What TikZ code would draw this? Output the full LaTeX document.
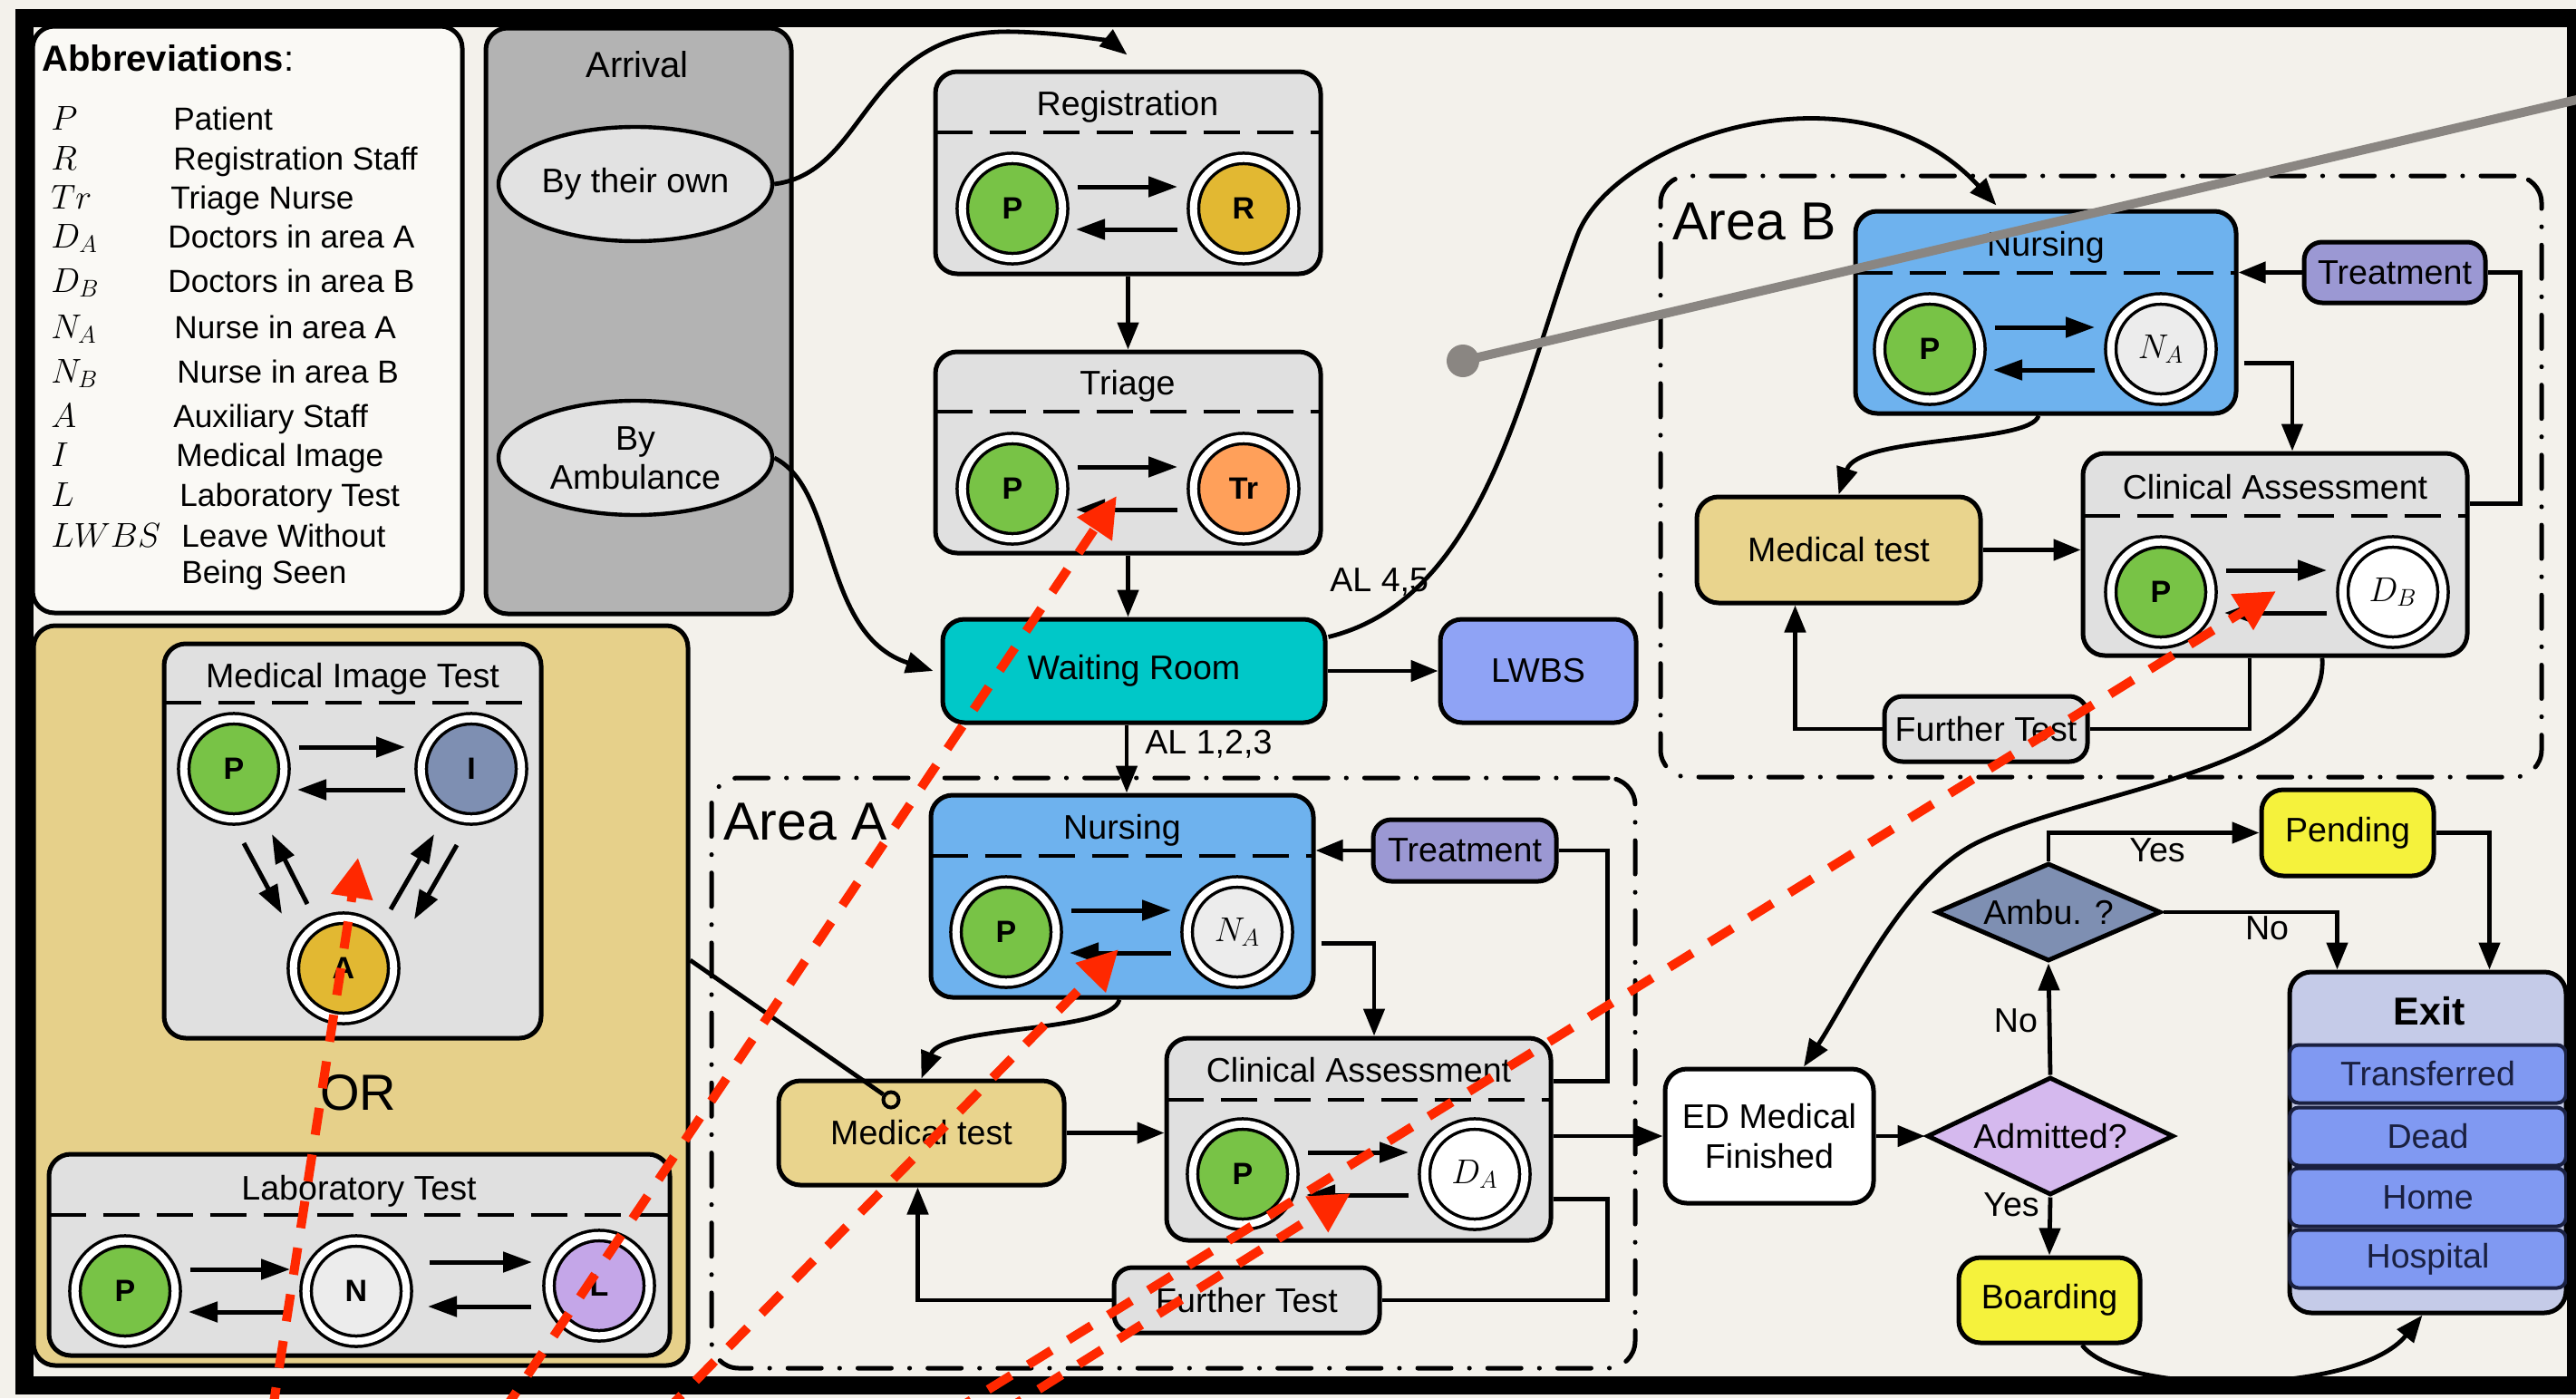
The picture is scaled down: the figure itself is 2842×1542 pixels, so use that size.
\RequirePackage{fix-cm}
\documentclass[tikz,border=0pt]{standalone}
\usepackage{fontspec}
\setmainfont{Liberation Sans}
\usetikzlibrary{arrows.meta,shapes.geometric,calc}

\definecolor{paper}{RGB}{243,241,235}
\definecolor{abbfill}{RGB}{250,249,245}
\definecolor{arrgray}{RGB}{179,179,179}
\definecolor{ellgray}{RGB}{226,226,226}
\definecolor{boxgray}{RGB}{224,224,224}
\definecolor{pgreen}{RGB}{120,195,70}
\definecolor{gold}{RGB}{226,184,50}
\definecolor{orng}{RGB}{255,160,90}
\definecolor{slate}{RGB}{126,143,178}
\definecolor{lilac}{RGB}{196,166,232}
\definecolor{lightc}{RGB}{236,236,236}
\definecolor{cyanw}{RGB}{0,200,200}
\definecolor{lwbsc}{RGB}{143,163,245}
\definecolor{nursec}{RGB}{110,178,238}
\definecolor{treatc}{RGB}{155,152,211}
\definecolor{tanc}{RGB}{233,212,141}
\definecolor{panelc}{RGB}{230,208,138}
\definecolor{yelc}{RGB}{245,242,60}
\definecolor{admc}{RGB}{213,185,238}
\definecolor{exitc}{RGB}{197,203,232}
\definecolor{rowc}{RGB}{128,153,242}
\definecolor{navyc}{RGB}{26,32,64}
\definecolor{redann}{RGB}{255,40,0}
\definecolor{pinc}{RGB}{138,134,130}

\tikzset{
  sz/.style 2 args={minimum width={#1*0.5pt}, minimum height={#2*0.5pt}},
  lblfont/.style={font=\fontsize{18.8}{21.5}\selectfont},
  lbl/.style={lblfont, inner sep=0pt},
  ttl/.style={lblfont, inner sep=0pt, anchor=base},
  box/.style={draw, line width=2.5pt, rounded corners=12pt, inner sep=0pt, lblfont, align=center},
  agent/.style={circle, draw=black, line width=1.75pt, double=white, double distance=4pt,
    minimum size=55.3pt, inner sep=0pt, font=\bfseries\fontsize{17}{17}\selectfont},
  mathagent/.style={agent, font=\fontsize{19}{19}\selectfont},
  conn/.style={line width=2.4pt, -{Triangle[length=15pt,width=11.5pt]}},
  wire/.style={line width=2.4pt},
  inarr/.style={line width=2.5pt, -{Triangle[length=16pt,width=11pt]}},
  sep/.style={line width=2.25pt, dash pattern=on 20pt off 9.5pt, shorten <=1.5pt, shorten >=1.5pt},
  areabox/.style={draw, line width=2.5pt, line cap=round,
    dash pattern=on 18.5pt off 10pt on 0.1pt off 10pt, rounded corners=15pt, inner sep=0pt},
  redline/.style={draw=redann, line width=5pt, dash pattern=on 15pt off 11pt,
    -{Triangle[length=22pt,width=22pt]}},
  sym/.style={anchor=base west, inner sep=0pt, font=\fontsize{19}{22}\selectfont},
  desc/.style={anchor=base west, inner sep=0pt, font=\fontsize{17.6}{20}\selectfont},
  exitrow/.style={draw=navyc, line width=2pt, fill=rowc, rounded corners=5pt, text=navyc,
    inner sep=0pt, lblfont, sz={305}{64}},
}

% two opposite arrows between a left and a right agent
\newcommand\agentpair[2]{%
  \draw[inarr] ($(#1)+(72,-24)$) -- ($(#2)+(-73,-24)$);
  \draw[inarr] ($(#2)+(-73,23)$) -- ($(#1)+(70,23)$);}

\begin{document}
\begin{tikzpicture}[x=0.5pt,y=-0.5pt]
\useasboundingbox (0,0) rectangle (2842,1542);
\clip (0,0) rectangle (2842,1542);
\fill[paper] (0,0) rectangle (2842,1542);

% ---------------- abbreviations ----------------
\node[draw, line width=2.5pt, rounded corners=12pt, fill=abbfill, sz={474}{647}] (abbr) at (273,352.5) {};
\node[anchor=base west, inner sep=0pt, font=\bfseries\fontsize{20}{24}\selectfont] (abbrT) at (46,78) {Abbreviations\textmd{:}};
\foreach \sy/\tx/\dx/\by [count=\i] in {
  P/Patient/191/143, R/Registration Staff/191/187, Tr/Triage Nurse/188/230,
  D_A/Doctors in area A/185/273, D_B/Doctors in area B/185/322,
  N_A/Nurse in area A/192/373, N_B/Nurse in area B/195/422,
  A/Auxiliary Staff/191/471, I/Medical Image/194/514,
  L/Laboratory Test/198/558, LWBS/Leave Without/200/603}
{
  \node[sym] (sym\i) at (56,\by) {$\sy$};
  \node[desc] (dsc\i) at (\dx,\by) {\tx};
}
\node[desc] (dsc12) at (200,643) {Being Seen};

% ---------------- arrival ----------------
\node[box, fill=arrgray, sz={337}{646}] (arrival) at (704.5,354) {};
\node[ttl, font=\fontsize{20}{24}\selectfont] (arrivalT) at (703,85) {Arrival};
\node[ellipse, draw, line width=2.2pt, fill=ellgray, sz={302}{126}, inner sep=0pt, lblfont, align=center] (own) at (701,203) {By their own};
\node[ellipse, draw, line width=2.2pt, fill=ellgray, sz={302}{126}, inner sep=0pt, lblfont, align=center] (amb) at (701,505) {By\\Ambulance};

% ---------------- registration / triage / waiting ----------------
\node[box, fill=boxgray, sz={425}{223}] (reg) at (1244.5,190.5) {};
\node[ttl] (regT) at (1244,127) {Registration};
\draw[sep] (reg.west |- 0,146) -- (reg.east |- 0,146);
\node[agent, fill=pgreen] (regP) at (1117,230) {P};
\node[agent, fill=gold] (regR) at (1372,230) {R};
\agentpair{regP}{regR}

\node[box, fill=boxgray, sz={425}{222}] (tri) at (1244.5,499) {};
\node[ttl] (triT) at (1244,435) {Triage};
\draw[sep] (tri.west |- 0,454) -- (tri.east |- 0,454);
\node[agent, fill=pgreen] (triP) at (1117,539) {P};
\node[agent, fill=orng] (triT2) at (1372,539) {Tr};
\agentpair{triP}{triT2}

\node[box, fill=cyanw, sz={422}{114}] (wait) at (1251,740) {Waiting Room};
\node[box, fill=lwbsc, sz={216}{114}] (lwbs) at (1697,740) {LWBS};

% ---------------- area A ----------------
\node[areabox, sz={1019}{651}] (areaA) at (1294.5,1183.5) {};
\node[anchor=west, inner sep=0pt, font=\fontsize{29.5}{30}\selectfont] (areaAT) at (798,906) {Area A};

\node[box, fill=nursec, sz={422}{223}] (nA) at (1238,988.5) {};
\node[ttl] (nAT) at (1238,925) {Nursing};
\draw[sep] (nA.west |- 0,944) -- (nA.east |- 0,944);
\node[agent, fill=pgreen] (nAP) at (1110,1028) {P};
\node[mathagent, fill=lightc] (nAN) at (1365,1028) {$N_A$};
\agentpair{nAP}{nAN}

\node[box, fill=treatc, sz={202}{68}, rounded corners=10pt] (treatA) at (1616,938) {Treatment};
\node[box, fill=tanc, sz={315}{115}] (medA) at (1016.5,1249.5) {Medical test};

\node[box, fill=boxgray, sz={424}{223}] (clinA) at (1499,1256.5) {};
\node[ttl] (clinAT) at (1499,1193) {Clinical Assessment};
\draw[sep] (clinA.west |- 0,1213) -- (clinA.east |- 0,1213);
\node[agent, fill=pgreen] (cAP) at (1371,1295) {P};
\node[mathagent, fill=white] (cAD) at (1627,1295) {$D_A$};
\agentpair{cAP}{cAD}

\node[box, fill=boxgray, sz={293}{72}, rounded corners=10pt] (furtherA) at (1375.5,1434) {Further Test};

% ---------------- area B ----------------
\node[areabox, sz={972}{663}] (areaB) at (2318,525.5) {};
\node[anchor=west, inner sep=0pt, font=\fontsize{29.5}{30}\selectfont] (areaBT) at (1845,244) {Area B};

\node[box, fill=nursec, sz={420}{223}] (nB) at (2257,344.5) {};
\node[ttl] (nBT) at (2257,282) {Nursing};
\draw[sep] (nB.west |- 0,301) -- (nB.east |- 0,301);
\node[agent, fill=pgreen] (nBP) at (2129,385) {P};
\node[mathagent, fill=lightc] (nBN) at (2384,385) {$N_A$};
\agentpair{nBP}{nBN}

\node[box, fill=treatc, sz={200}{67}, rounded corners=10pt] (treatB) at (2642,300.5) {Treatment};
\node[box, fill=tanc, sz={313}{117}] (medB) at (2028.5,606.5) {Medical test};

\node[box, fill=boxgray, sz={424}{223}] (clinB) at (2510,611.5) {};
\node[ttl] (clinBT) at (2510,550) {Clinical Assessment};
\draw[sep] (clinB.west |- 0,569) -- (clinB.east |- 0,569);
\node[agent, fill=pgreen] (cBP) at (2384,653) {P};
\node[mathagent, fill=white] (cBD) at (2640,653) {$D_B$};
\agentpair{cBP}{cBD}

\node[box, fill=boxgray, sz={224}{72}, rounded corners=10pt] (furtherB) at (2191,804) {Further Test};

% ---------------- exit side ----------------
\node[box, fill=white, sz={230}{148}, font=\fontsize{18.8}{22}\selectfont] (ED) at (1952,1253) {ED Medical\\Finished};
\node[diamond, draw, line width=2.5pt, fill=admc, aspect=2.09, sz={272}{130}, inner sep=0pt, lblfont] (admit) at (2262,1253) {Admitted?};
\node[diamond, draw, line width=2.5pt, fill=slate, aspect=2.3, sz={248}{108}, inner sep=0pt, lblfont] (ambu) at (2260,1006) {Ambu. ?};
\node[box, fill=yelc, sz={190}{95}] (pend) at (2590,918.5) {Pending};
\node[box, fill=yelc, sz={200}{94}] (board) at (2261,1434) {Boarding};

\node[box, fill=exitc, sz={305}{376}] (exit) at (2678.5,1260) {};
\node[inner sep=0pt, font=\bfseries\fontsize{21.5}{24}\selectfont] (exitT) at (2680,1115) {Exit};
\node[exitrow] (ex1) at (2678.5,1184.5) {Transferred};
\node[exitrow] (ex2) at (2678.5,1253.5) {Dead};
\node[exitrow] (ex3) at (2678.5,1320.5) {Home};
\node[exitrow] (ex4) at (2678.5,1388.5) {Hospital};

% ---------------- test panel ----------------
\node[draw, line width=2.5pt, rounded corners=12pt, fill=panelc, sz={722}{816}] (panel) at (398,1098) {};

\node[box, fill=boxgray, sz={416}{435}] (mit) at (389,927.5) {};
\node[ttl] (mitT) at (389,758) {Medical Image Test};
\draw[sep] (mit.west |- 0,775) -- (mit.east |- 0,775);
\node[agent, fill=pgreen] (mP) at (258,848) {P};
\node[agent, fill=slate] (mI) at (520,848) {I};
\node[agent, fill=gold] (mA) at (379,1068) {A};
\agentpair{mP}{mI}
\draw[inarr] ($(mP)+(11,82)$) -- ($(mA)+(-68,-60)$);
\draw[inarr] ($(mA)+(-40,-71)$) -- ($(mP)+(42,72)$);
\draw[inarr] ($(mA)+(52,-65)$) -- ($(mI)+(-41,72)$);
\draw[inarr] ($(mI)+(-16,84)$) -- ($(mA)+(78,-54)$);

\node[inner sep=0pt, font=\fontsize{28}{30}\selectfont] (orT) at (395,1205) {OR};

\node[box, fill=boxgray, sz={685}{222}] (lab) at (396.5,1384) {};
\node[ttl] (labT) at (396,1323) {Laboratory Test};
\draw[sep] (lab.west |- 0,1340) -- (lab.east |- 0,1340);
\node[agent, fill=pgreen] (lP) at (138,1424) {P};
\node[agent, fill=lightc] (lN) at (393,1424) {N};
\node[agent, fill=lilac] (lL) at (661,1418) {L};
\agentpair{lP}{lN}
\draw[inarr] ($(lN)+(81,-32)$) -- ($(lN)+(194,-32)$);
\draw[inarr] ($(lN)+(193,17)$) -- ($(lN)+(79,17)$);

% tether from the test panel to the medical test step
\node[circle, draw, line width=2pt, fill=tanc, minimum size=8.5pt, inner sep=0pt] (tether) at (983,1213) {};
\draw[wire] ($(panel.east)+(0,-39)$) -- (tether);

% ---------------- connectors ----------------
\draw[conn] (own.east) .. controls (960,190) and (950,30) .. (1120,35) .. controls (1190,37) and (1228,48) .. ($(reg.north)+(-1,-16)$);
\draw[conn] (amb.east) .. controls (925,540) and (905,700) .. ($(wait.west)+(-8,0)$);
\draw[conn] (reg.south) -- (tri.north);
\draw[conn] (tri.south) -- (wait.north -| tri.south);
\coordinate (wAL) at ($(wait.south)+(-8,0)$);
\draw[conn] (wAL) -- (wAL |- nA.north);
\node[lbl, anchor=west] (al123) at (1263,821) {AL 1,2,3};
\draw[conn] (wait.east) -- (lwbs.west);
\draw[conn] ($(wait.north east)+(1,22)$) .. controls (1640,660) and (1680,420) .. (1740,260) .. controls (1780,153) and (2050,60) .. ($(nB.north west)+(158,-4)$);
\node[lbl, anchor=west] (al45) at (1467,642) {AL 4,5};

% area A flow
\draw[conn] (treatA.west) -- (treatA.west -| nA.east);
\draw[wire] ($(clinA.east)+(0,-64)$) -- ++(60,0) |- (treatA.east);
\draw[conn] ($(nA.east)+(6,52)$) -| ($(clinA.north)+(17,0)$);
\draw[conn] ($(nA.south)+(-3,0)$) .. controls (1225,1140) and (1040,1130) .. (medA.north);
\draw[conn] (medA.east) -- (medA.east -| clinA.west);
\draw[conn] (ED.west -| clinA.east) -- (ED.west);
\draw[wire] ($(clinA.east)+(0,66)$) -- ++(60,0) |- (furtherA.east);
\draw[conn] (furtherA.west) -| ($(medA.south)+(-4,0)$);

% area B flow
\draw[conn] (treatB.west) -- (treatB.west -| nB.east);
\draw[wire] ($(clinB.east)+(0,-56)$) -- ++(56,0) |- (treatB.east);
\draw[conn] ($(nB.east)+(6,56)$) -| ($(clinB.north)+(19,0)$);
\draw[conn] ($(nB.south)+(-8,0)$) .. controls (2240,490) and (2050,480) .. (medB.north);
\draw[conn] (medB.east) -- (medB.east -| clinB.west);
\draw[wire] ($(clinB.south)+(-28,0)$) |- (furtherB.east);
\draw[conn] (furtherB.west) -| ($(medB.south)+(-48,0)$);
\draw[conn] ($(clinB.south)+(52,0)$) .. controls (2570,850) and (2300,870) .. (2180,930) .. controls (2100,970) and (2040,1100) .. ($(ED.north)+(38,0)$);

% discharge decisions
\draw[conn] (ED.east) -- (admit.west);
\draw[conn] (admit.south) -- (board.north);
\node[lbl] (yes1) at (2219,1329) {Yes};
\draw[conn] (admit.north) -- (ambu.south);
\node[lbl] (no1) at (2224,1126) {No};
\draw[conn] (ambu.north) |- (pend.west);
\node[lbl] (yes2) at (2380,938) {Yes};
\draw[conn] (ambu.east) -| ($(exit.north)+(-100,0)$);
\node[lbl] (no2) at (2501,1024) {No};
\draw[conn] (pend.east) -| ($(exit.north)+(68,0)$);
\draw[conn] ($(board.south)+(36,0)$) .. controls (2340,1540) and (2600,1540) .. ($(exit.south)+(-6,0)$);

% ---------------- frame ----------------
\draw[line width=10pt] (27,20) rectangle (2842,1528);

% ---------------- overlay marks ----------------
\coordinate (r1s) at (300,1560); \coordinate (r1e) at (395,946);
\coordinate (r2s) at (553,1560); \coordinate (r2e) at (1232,547);
\coordinate (r3s) at (731,1560); \coordinate (r3e) at (1234,1047);
\coordinate (r4s) at (1102,1560); \coordinate (r4e) at (1490,1316);
\coordinate (r5s) at (1046,1560); \coordinate (r5e) at (2511,652);
\draw[redline] (r1s) -- (r1e);
\draw[redline] (r2s) -- (r2e);
\draw[redline] (r3s) -- (r3e);
\draw[redline] (r4s) -- (r4e);
\draw[redline] (r5s) -- (r5e);

\coordinate (pinDot) at (1614,398);
\coordinate (pinEnd) at (2860,106);
\draw[pinc, line width=5pt] (pinDot) -- (pinEnd);
\fill[pinc] (pinDot) circle (9pt);
\end{tikzpicture}
\end{document}
